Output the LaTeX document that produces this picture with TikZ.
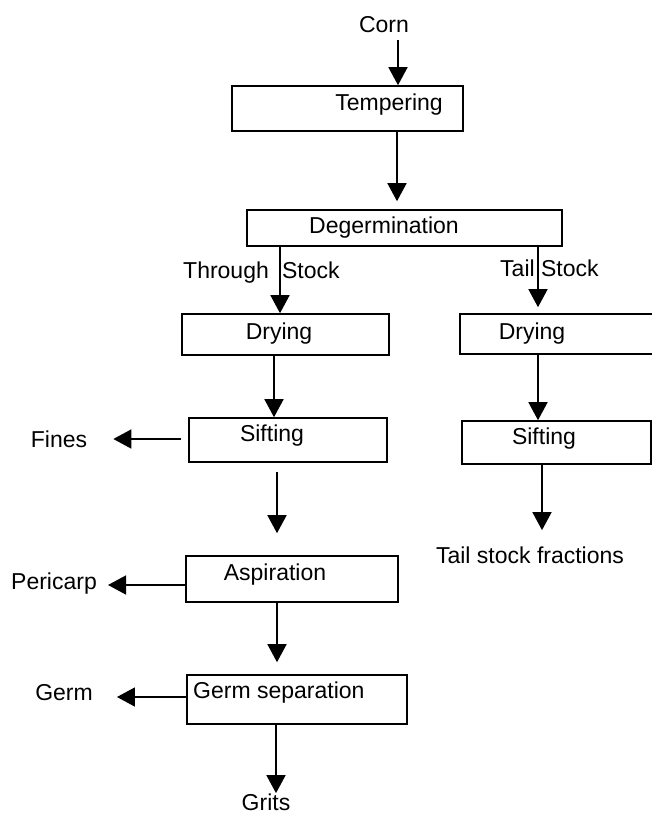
\documentclass[tikz,border=0pt]{standalone}
\usepackage{fontspec}
\setmainfont{Liberation Sans}
\usetikzlibrary{arrows.meta}
\begin{document}
\begin{tikzpicture}[x=1pt,y=-1pt,
  box/.style={draw, line width=1.6pt, inner sep=0pt, rectangle},
  lbl/.style={anchor=base, inner sep=0pt, font=\fontsize{23}{27}\selectfont},
  arr/.style={line width=1.6pt, -{Triangle[width=19pt,length=18pt]}}]
\useasboundingbox (0,0) rectangle (652,814);
\clip (0,0) rectangle (652,814);
% boxes
\node[box, minimum width=231pt, minimum height=45pt] (temper) at (347.5,108.5) {};
\node[box, minimum width=315pt, minimum height=36pt] (degerm) at (404.5,228) {};
\node[box, minimum width=207pt, minimum height=41pt] (dryL) at (285.5,334.5) {};
\node[box, minimum width=210pt, minimum height=40pt] (dryR) at (565,334) {};
\node[box, minimum width=198pt, minimum height=44pt] (siftL) at (288,440) {};
\node[box, minimum width=189pt, minimum height=43pt] (siftR) at (556.5,442.5) {};
\node[box, minimum width=212pt, minimum height=46pt] (aspir) at (292,579) {};
\node[box, minimum width=220pt, minimum height=49pt] (germsep) at (297,699.5) {};
% texts
\node[lbl] (cornT) at (384,32) {Corn};
\node[lbl] (temperT) at (389,110) {Tempering};
\node[lbl] (degermT) at (384,233) {Degermination};
\node[lbl, anchor=base west] (throughT) at (183,278) {Through\hspace{0.3em} Stock};
\node[lbl, anchor=base west] (tailsT) at (500,276) {Tail Stock};
\node[lbl] (dryLT) at (279,339) {Drying};
\node[lbl] (dryRT) at (532,339) {Drying};
\node[lbl] (siftLT) at (272,441) {Sifting};
\node[lbl] (siftRT) at (544,444) {Sifting};
\node[lbl] (finesT) at (59,447) {Fines};
\node[lbl] (tailT) at (530,563) {Tail stock fractions};
\node[lbl] (aspirT) at (275,580) {Aspiration};
\node[lbl] (pericarpT) at (54,589) {Pericarp};
\node[lbl, anchor=base west] (germsepT) at (193,698) {Germ separation};
\node[lbl] (germT) at (64,700) {Germ};
\node[lbl] (gritsT) at (266,810) {Grits};
% connectors
\draw[arr, shorten <=8pt] (cornT.south -| 398,0) -- (temper.north -| 398,0);
\draw[arr, shorten >=8pt] (temper.south -| 397,0) -- (degerm.north -| 397,0);
\draw[arr] (degerm.south -| 280,0) -- (dryL.north -| 280,0);
\draw[arr, shorten >=6pt] (degerm.south -| 538,0) -- (dryR.north -| 538,0);
\draw[arr] (dryL.south -| 274,0) -- (siftL.north -| 274,0);
\draw[arr] (dryR.south -| 538,0) -- (siftR.north -| 538,0);
\draw[arr, shorten <=9pt, shorten >=22pt] (siftL.south -| 277,0) -- (aspir.north -| 277,0);
\draw[arr, shorten >=16pt] (siftR.south -| 542,0) -- (tailT.north -| 542,0);
\draw[arr, shorten >=12pt] (aspir.south -| 277,0) -- (germsep.north -| 277,0);
\draw[arr, shorten >=0pt] (germsep.south -| 276,0) -- (gritsT.north -| 276,0);
\draw[arr, shorten <=7pt, shorten >=26pt] (siftL.west |- 0,439) -- (finesT.east |- 0,439);
\draw[arr, shorten >=11pt] (aspir.west |- 0,585) -- (pericarpT.east |- 0,585);
\draw[arr, shorten >=24pt] (germsep.west |- 0,697) -- (germT.east |- 0,697);
\end{tikzpicture}
\end{document}
